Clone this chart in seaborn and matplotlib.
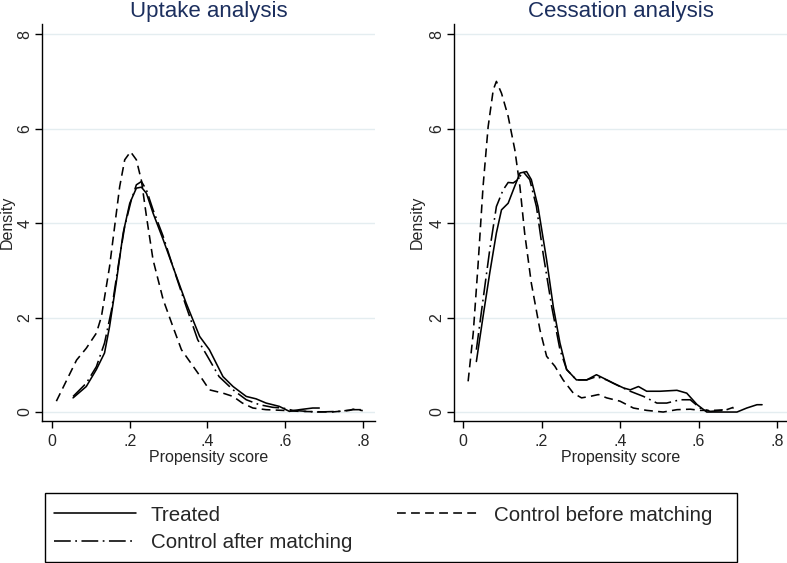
import matplotlib
matplotlib.use("Agg")
import matplotlib.pyplot as plt
from matplotlib.patches import Rectangle
import seaborn as sns
import pandas as pd

# Uptake analysis: density curves
up_treated_x = [0.054, 0.088, 0.114, 0.135, 0.148, 0.165, 0.183, 0.200, 0.217, 0.230, 0.243, 0.260,
                0.286, 0.311, 0.345, 0.380, 0.405, 0.440, 0.466, 0.500, 0.525, 0.551, 0.585, 0.611,
                0.637, 0.671, 0.688]
up_treated_y = [0.30, 0.54, 0.90, 1.25, 1.81, 2.73, 3.79, 4.42, 4.74, 4.76, 4.63, 4.21,
                3.65, 3.08, 2.31, 1.60, 1.32, 0.75, 0.54, 0.33, 0.28, 0.19, 0.12, 0.014,
                0.05, 0.085, 0.085]
up_before_x = [0.011, 0.063, 0.088, 0.114, 0.127, 0.148, 0.174, 0.187, 0.202, 0.217, 0.230, 0.243,
               0.260, 0.286, 0.311, 0.333, 0.363, 0.388, 0.405, 0.440, 0.466, 0.490, 0.517, 0.551,
               0.594, 0.637, 0.720, 0.766, 0.775, 0.800]
up_before_y = [0.23, 1.10, 1.35, 1.67, 2.02, 3.08, 4.77, 5.34, 5.51, 5.34, 4.90, 4.14,
               3.22, 2.38, 1.81, 1.32, 0.97, 0.68, 0.47, 0.40, 0.33, 0.19, 0.085, 0.05,
               0.035, 0.014, 0.0, 0.035, 0.06, 0.03]
up_after_x = [0.054, 0.088, 0.114, 0.135, 0.153, 0.170, 0.187, 0.204, 0.217, 0.230, 0.243, 0.260,
              0.286, 0.311, 0.345, 0.375, 0.400, 0.430, 0.466, 0.500, 0.534, 0.568, 0.594, 0.620,
              0.680, 0.740, 0.775, 0.795]
up_after_y = [0.33, 0.61, 0.96, 1.46, 2.16, 3.08, 3.93, 4.49, 4.81, 4.88, 4.70, 4.28,
              3.72, 3.08, 2.24, 1.53, 1.18, 0.75, 0.47, 0.26, 0.155, 0.10, 0.085, 0.035,
              0.0, 0.014, 0.05, 0.05]

# Cessation analysis
ce_treated_x = [0.034, 0.051, 0.068, 0.085, 0.098, 0.115, 0.128, 0.145, 0.162, 0.174, 0.191, 0.213,
                0.230, 0.247, 0.264, 0.289, 0.315, 0.340, 0.357, 0.383, 0.409, 0.426, 0.447, 0.468,
                0.502, 0.545, 0.570, 0.596, 0.621, 0.655, 0.698, 0.723, 0.749, 0.762]
ce_treated_y = [1.07, 2.02, 2.94, 3.79, 4.28, 4.42, 4.70, 5.06, 5.09, 4.92, 4.35, 3.22,
                2.23, 1.46, 0.90, 0.68, 0.68, 0.79, 0.72, 0.61, 0.51, 0.47, 0.54, 0.44,
                0.44, 0.46, 0.40, 0.16, 0.0, 0.0, 0.0, 0.085, 0.155, 0.155]
ce_before_x = [0.013, 0.026, 0.038, 0.051, 0.064, 0.077, 0.085, 0.098, 0.115, 0.132, 0.145, 0.157,
               0.174, 0.196, 0.213, 0.234, 0.255, 0.281, 0.302, 0.323, 0.345, 0.366, 0.400, 0.434,
               0.468, 0.510, 0.545, 0.579, 0.604, 0.638, 0.672, 0.689]
ce_before_y = [0.65, 1.67, 3.08, 4.77, 6.04, 6.82, 7.00, 6.75, 6.26, 5.55, 4.77, 3.79,
               2.73, 1.74, 1.18, 0.97, 0.68, 0.40, 0.30, 0.33, 0.37, 0.30, 0.23, 0.085,
               0.035, 0.0, 0.05, 0.06, 0.035, 0.035, 0.05, 0.10]
ce_after_x = [0.034, 0.051, 0.068, 0.085, 0.102, 0.115, 0.128, 0.140, 0.153, 0.170, 0.187, 0.204,
              0.226, 0.247, 0.264, 0.289, 0.315, 0.340, 0.366, 0.400, 0.426, 0.460, 0.494, 0.519,
              0.553, 0.579, 0.604, 0.630, 0.664, 0.689]
ce_after_y = [1.32, 2.38, 3.43, 4.35, 4.70, 4.86, 4.85, 4.92, 5.09, 4.92, 4.35, 3.36,
              2.23, 1.32, 0.90, 0.68, 0.68, 0.75, 0.68, 0.54, 0.44, 0.33, 0.19, 0.19,
              0.26, 0.26, 0.085, 0.014, 0.035, 0.085]

titles = ["Uptake analysis", "Cessation analysis"]
y_ticks = [0, 2, 4, 6, 8]
x_ticks = [0, 0.2, 0.4, 0.6, 0.8]
x_tick_labels = ["0", ".2", ".4", ".6", ".8"]
labels = ["Treated", "Control before matching", "Control after matching"]

sns.set_style("white")
plt.rcParams["font.family"] = ["Liberation Sans", "DejaVu Sans"]

estilos = {
    "Treated": "-",
    "Control before matching": (0, (5.5, 3.3)),
    "Control after matching": (0, (10.5, 2.8, 1.1, 2.8)),
}

paneles = [
    (up_treated_x, up_treated_y, up_before_x, up_before_y, up_after_x, up_after_y),
    (ce_treated_x, ce_treated_y, ce_before_x, ce_before_y, ce_after_x, ce_after_y),
]
posiciones = [[42 / 787, 0.2522, 333 / 787, 0.7048],
              [454 / 787, 0.2522, 333 / 787, 0.7048]]
xlims = [(-0.026, 0.8315), (-0.023, 0.8255)]
# borde derecho de la etiqueta "Density" (coordenadas de ejes)
ylabel_x = [-0.081, -0.087]

fig = plt.figure(figsize=(7.87, 5.63), dpi=100)
lineas = {}
for i, datos in enumerate(paneles):
    ax = fig.add_axes(posiciones[i])
    tx, ty, bx, by, ax_, ay = datos
    for etiqueta, xs, ys in [("Treated", tx, ty),
                             ("Control before matching", bx, by),
                             ("Control after matching", ax_, ay)]:
        df = pd.DataFrame({"x": xs, "y": ys})
        sns.lineplot(data=df, x="x", y="y", ax=ax, color="black", lw=1.15,
                     linestyle=estilos[etiqueta], estimator=None, sort=False)
        lineas[etiqueta] = ax.lines[-1]
    ax.set_xlim(*xlims[i])
    ax.set_ylim(-0.19, 8.21)
    ax.set_yticks(y_ticks)
    ax.set_xticks(x_ticks)
    ax.set_xticklabels(x_tick_labels)
    ax.set_yticklabels([str(t) for t in y_ticks], rotation=90, va="center")
    ax.tick_params(axis="both", direction="out", length=5, width=1, labelsize=11.5,
                   color="black", bottom=True, left=True)
    ax.tick_params(axis="y", pad=2)
    ax.tick_params(axis="x", pad=4)
    ax.yaxis.grid(True, color="#e4edf0", lw=1)
    ax.xaxis.grid(False)
    sns.despine(ax=ax, top=True, right=True)
    for s in ["left", "bottom"]:
        ax.spines[s].set_color("black")
        ax.spines[s].set_linewidth(1)
    ax.set_xlabel("Propensity score", fontsize=11.5, labelpad=1)
    ax.set_ylabel("Density", fontsize=11.5)
    ax.yaxis.set_label_coords(ylabel_x[i], 0.5)
    ax.set_title(titles[i], fontsize=16, color="#1c2f5e", pad=5)

orden = ["Treated", "Control after matching", "Control before matching"]
leg = fig.legend([lineas[k] for k in orden], orden, ncol=2, loc="center left",
                 bbox_to_anchor=(54 / 787, 34 / 563), frameon=False,
                 fontsize=14.8, handlelength=4.0, handletextpad=0.7, labelspacing=0.42,
                 columnspacing=2.2, borderpad=0, borderaxespad=0)
fig.patches.append(Rectangle((45 / 787, 1 / 563), 692 / 787, 69 / 563, transform=fig.transFigure,
                             fill=False, edgecolor="black", lw=1))

plt.savefig("out.png", dpi=100)
